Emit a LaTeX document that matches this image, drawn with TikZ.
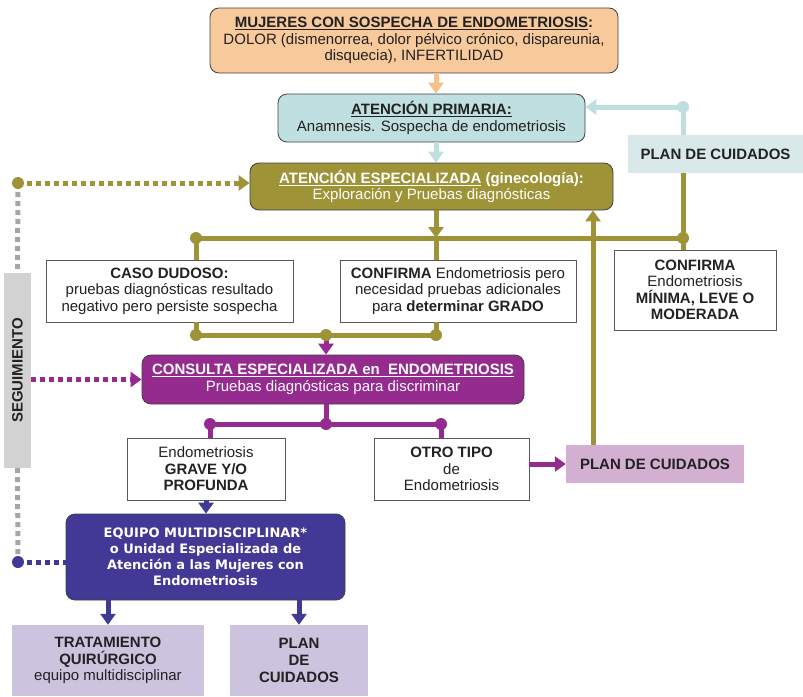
\documentclass[tikz,border=0pt]{standalone}
\usepackage{fontspec}
\setmainfont{Liberation Sans}
\newfontfamily\equipofont{DejaVu Sans}
\usetikzlibrary{arrows.meta}
\definecolor{peach}{HTML}{F7C99B}
\definecolor{peachline}{HTML}{F6C08E}
\definecolor{tealbox}{HTML}{C0DFE0}
\definecolor{tealline}{HTML}{BEDEDF}
\definecolor{tealplan}{HTML}{D9E9E9}
\definecolor{olive}{HTML}{9F9337}
\definecolor{violet}{HTML}{952B8E}
\definecolor{lilac}{HTML}{D3AFD2}
\definecolor{indigo}{HTML}{423895}
\definecolor{lavender}{HTML}{CCC4DF}
\definecolor{segbar}{HTML}{D2D2D2}
\definecolor{segline}{HTML}{A6A6A6}
\definecolor{ink}{HTML}{222222}
\tikzset{
  txt/.style={align=center, text=ink, font=\fontsize{15}{16.5}\selectfont, inner sep=2pt},
  roundbox/.style={txt, draw=black!75, line width=0.8pt, rounded corners=9pt},
  whitebox/.style={txt, draw=black!65, line width=0.8pt, fill=white},
  planbox/.style={txt, font=\fontsize{15}{17}\selectfont\bfseries},
  link/.style={line width=5pt},
  tip/.style={-{Triangle[length=11pt,width=15pt]}},
  dots/.style={line width=5pt, dash pattern=on 5pt off 4pt},
}
\def\DotRadius{6pt}

\begin{document}
\begin{tikzpicture}[x=1pt,y=-1pt]
  \useasboundingbox (0,0) rectangle (803,696);
  \coordinate (axis) at (436,0);
  \coordinate (upx) at (593,0);
  % junctions
  \coordinate (jl) at (196,238);
  \coordinate (jm) at (436,238);
  \coordinate (jr) at (683,238);
  \coordinate (jt) at (683,107);
  \coordinate (jb1) at (196,335);
  \coordinate (jb2) at (326,335);
  \coordinate (jb3) at (436,335);
  \coordinate (jp1) at (210,424);
  \coordinate (jp2) at (326,424);
  \coordinate (jp3) at (441,424);
  \coordinate (sTop) at (18,183);
  \coordinate (sBot) at (18,562);
  % boxes
  \node[roundbox, fill=peach, minimum width=408pt, minimum height=65pt] (mujeres) at (414,40.5)
    {\textbf{\underline{MUJERES CON SOSPECHA DE ENDOMETRIOSIS}:}\\DOLOR (dismenorrea, dolor p\'elvico cr\'onico, dispareunia,\\disquecia), INFERTILIDAD};
  \node[roundbox, fill=tealbox, minimum width=307pt, minimum height=48pt] (primaria) at (431.5,118)
    {\textbf{\underline{ATENCI\'ON PRIMARIA:}}\\Anamnesis. Sospecha de endometriosis};
  \node[roundbox, fill=olive, text=white, minimum width=363pt, minimum height=47pt] (especializada) at (431.5,186.5)
    {\textbf{\underline{ATENCI\'ON ESPECIALIZADA} (ginecolog\'ia):}\\Exploraci\'on y Pruebas diagn\'osticas};
  \node[planbox, fill=tealplan, minimum width=175pt, minimum height=38pt] (planA) at (715.5,154) {PLAN DE CUIDADOS};
  \node[whitebox, minimum width=247pt, minimum height=62pt] (dudoso) at (169.5,291)
    {\textbf{CASO DUDOSO:}\\pruebas diagn\'osticas resultado\\negativo pero persiste sospecha};
  \node[whitebox, minimum width=236pt, minimum height=62pt] (confirma) at (458,291)
    {\textbf{CONFIRMA} Endometriosis pero\\necesidad pruebas adicionales\\para \textbf{determinar GRADO}};
  \node[whitebox, minimum width=162pt, minimum height=80pt] (minima) at (695,290)
    {\textbf{CONFIRMA}\\Endometriosis\\\textbf{M\'INIMA, LEVE O}\\\textbf{MODERADA}};
  \node[roundbox, fill=violet, text=white, minimum width=382pt, minimum height=49pt] (consulta) at (333,379.5)
    {\textbf{\underline{CONSULTA ESPECIALIZADA en\ \ ENDOMETRIOSIS}}\\Pruebas diagn\'osticas para discriminar};
  \node[whitebox, minimum width=158pt, minimum height=62pt] (grave) at (206,469)
    {Endometriosis\\\textbf{GRAVE Y/O}\\\textbf{PROFUNDA}};
  \node[whitebox, minimum width=155pt, minimum height=62pt] (otro) at (451.5,469)
    {\textbf{OTRO TIPO}\\de\\Endometriosis};
  \node[planbox, fill=lilac, minimum width=178pt, minimum height=38pt] (planB) at (655,464) {PLAN DE CUIDADOS};
  \node[roundbox, fill=indigo, text=white, minimum width=279pt, minimum height=86pt,
        font=\equipofont\fontsize{13}{16}\selectfont\bfseries] (equipo) at (205.5,557)
    {EQUIPO MULTIDISCIPLINAR*\\o Unidad Especializada de\\Atenci\'on a las Mujeres con\\Endometriosis};
  \node[txt, fill=lavender, minimum width=192pt, minimum height=71pt] (tratamiento) at (108,660.5)
    {\textbf{TRATAMIENTO}\\\textbf{QUIR\'URGICO}\\equipo multidisciplinar};
  \node[planbox, fill=lavender, minimum width=138pt, minimum height=71pt] (planC) at (299,660.5)
    {PLAN\\DE\\CUIDADOS};
  \node[planbox, fill=segbar, rotate=90, minimum width=195pt, minimum height=27pt] (segui) at (17.5,370.5)
    {SEGUIMIENTO};
  % top arrows
  \draw[link, peachline, tip] (mujeres.south -| axis) -- (primaria.north -| axis);
  \draw[link, tealline, tip] (primaria.south -| axis) -- (especializada.north -| axis);
  \draw[link, tealline] (planA.north -| jt) -- (jt);
  \draw[link, tealline, tip] (jt) -- (primaria.east |- jt);
  % olive branches
  \draw[link, olive, tip] (especializada.south -| axis) -- (jm);
  \draw[link, olive] (jm) -- (confirma.north -| axis);
  \draw[link, olive] (dudoso.north -| jl) -- (jl) -- (jr) -- (minima.north -| jr);
  \draw[link, olive] (jr) -- (planA.south -| jr);
  \draw[link, olive, tip] (planB.north -| upx) -- (especializada.south -| upx);
  \draw[link, olive] (dudoso.south -| jb1) -- (jb1) -- (jb3) -- (confirma.south -| jb3);
  % purple branches
  \draw[link, violet, tip] (jb2) -- (consulta.north -| jb2);
  \draw[link, violet] (consulta.south -| jp2) -- (jp2);
  \draw[link, violet] (grave.north -| jp1) -- (jp1) -- (jp3) -- (otro.north -| jp3);
  \draw[link, violet, tip] (otro.east |- planB) -- (planB.west);
  % equipo
  \draw[link, indigo, tip] (grave.south) -- (equipo.north -| grave);
  \draw[link, indigo, tip] (equipo.south -| tratamiento) -- (tratamiento.north);
  \draw[link, indigo, tip] (equipo.south -| planC) -- (planC.north);
  % seguimiento
  \draw[dots, segline] (sTop) -- (segui.east);
  \draw[dots, segline] (segui.west) -- (sBot);
  \draw[dots, olive, tip] (sTop) -- (especializada.west |- sTop);
  \draw[dots, violet, tip] (segui.south |- consulta) -- (consulta.west);
  \draw[dots, indigo] (sBot) -- (equipo.west |- sBot);
  % dots
  \foreach \point in {jl,jr,jb1,jb2,jb3,sTop}
    \fill[olive] (\point) circle (\DotRadius);
  \foreach \point in {jp1,jp2,jp3}
    \fill[violet] (\point) circle (\DotRadius);
  \fill[tealline] (jt) circle (\DotRadius);
  \fill[indigo] (sBot) circle (\DotRadius);
\end{tikzpicture}
\end{document}
